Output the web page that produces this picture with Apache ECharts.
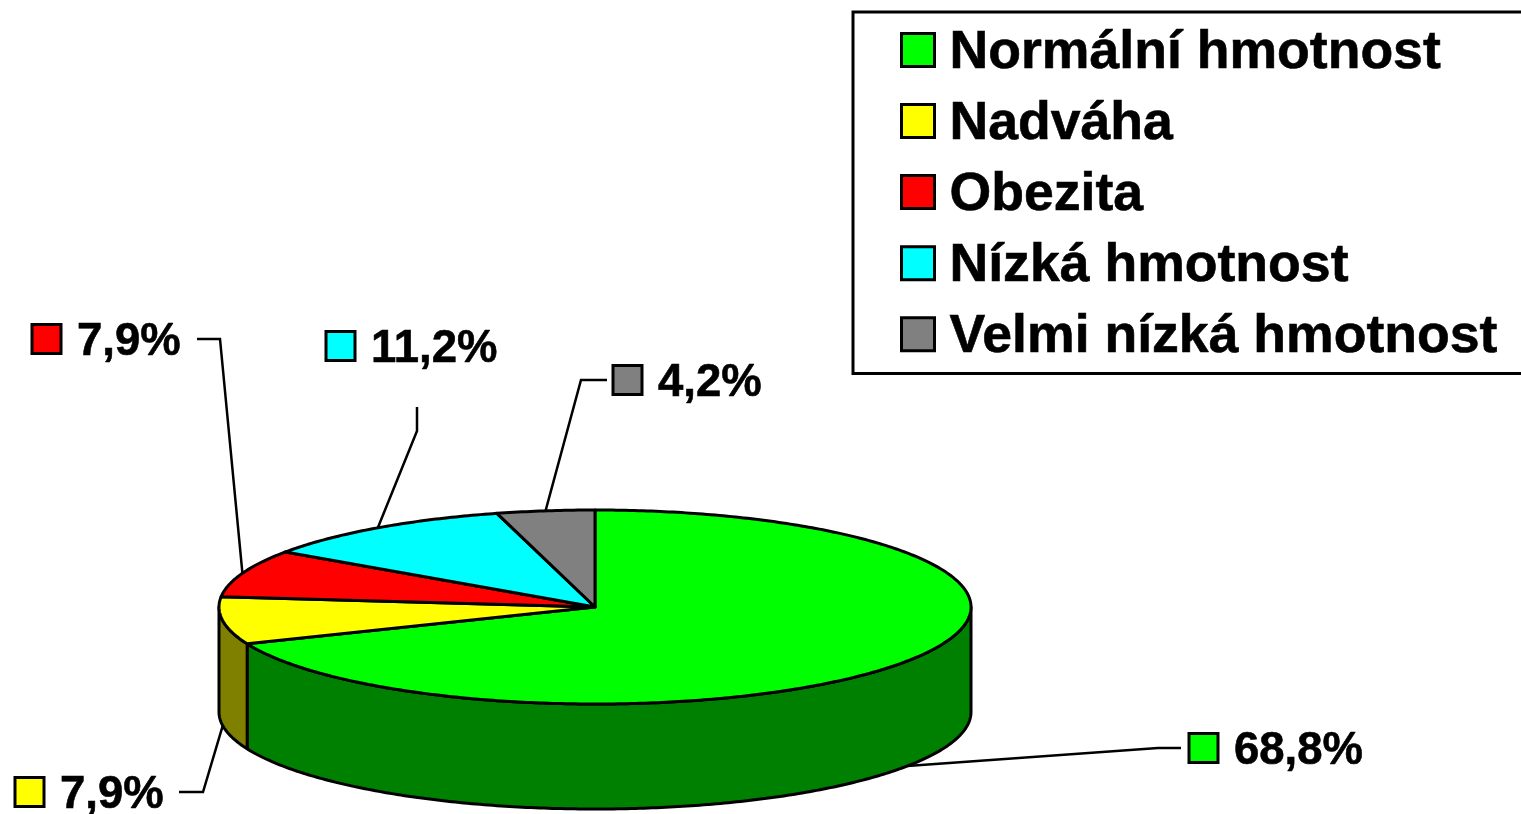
<!DOCTYPE html>
<html lang="cs">
<head>
<meta charset="utf-8">
<title>Hmotnost</title>
<style>
  html, body { margin: 0; padding: 0; background: #fff; overflow: hidden; }
  #chart { width: 1521px; height: 814px; }
</style>
<script src="https://cdn.jsdelivr.net/npm/echarts@6/dist/echarts.min.js"></script>
</head>
<body>
<div id="chart"></div>
<script type="text/javascript">
// data
const categories = ['Normální hmotnost', 'Nadváha', 'Obezita', 'Nízká hmotnost', 'Velmi nízká hmotnost'];
const percentValues = [68.8, 7.9, 7.9, 11.2, 4.2];

// colours of the top faces and the side walls
const topColors = ['#00ff00', '#ffff00', '#ff0000', '#00ffff', '#808080'];
const sideColors = ['#008000', '#808000', '#800000', '#008080', '#404040'];

// where each data label sits: box left, box centre y, leader elbow, leader end
const labelLayout = [
    { boxX: 1189, boxY: 748, elbow: [1158, 748], end: [1181, 748] },
    { boxX: 15, boxY: 792, elbow: [203, 792], end: [179, 792] },
    { boxX: 32, boxY: 339, elbow: [220, 339], end: [197, 339] },
    { boxX: 326, boxY: 346, elbow: [417, 431], end: [417, 407] },
    { boxX: 613, boxY: 380, elbow: [581, 380], end: [607, 380] }
];

// pie geometry
const cx = 595, cy = 607, rx = 376, ry = 97, depth = 105;
const lineW = 3;
const labelFont = 'bold 45.5px "Liberation Sans", Arial, sans-serif';

const total = percentValues.reduce((a, b) => a + b, 0);

function rimPoint(deg, drop) {
    let a = deg * Math.PI / 180;
    return [cx + rx * Math.sin(a), cy - ry * Math.cos(a) + drop];
}

function arcPoints(from, to, drop) {
    let pts = [];
    let steps = Math.max(2, Math.ceil(Math.abs(to - from) * 1.5));
    for (let i = 0; i <= steps; i++) {
        pts.push(rimPoint(from + (to - from) * i / steps, drop));
    }
    return pts;
}

function renderSlice(index, api) {
    let before = percentValues.slice(0, index).reduce((a, b) => a + b, 0);
    let value = api.value(0);
    let start = before / total * 360;
    let end = (before + value) / total * 360;
    let mid = (start + end) / 2;
    let children = [];

    // side wall, only the front half of the rim shows
    let sideFrom = Math.max(start, 90);
    let sideTo = Math.min(end, 270);
    if (sideTo > sideFrom) {
        let wall = arcPoints(sideFrom, sideTo, 0).concat(arcPoints(sideTo, sideFrom, depth));
        children.push({
            type: 'polygon',
            shape: { points: wall },
            style: { fill: sideColors[index], stroke: '#000', lineWidth: lineW, lineJoin: 'round' }
        });
    }

    // top face
    children.push({
        type: 'polygon',
        shape: { points: [[cx, cy]].concat(arcPoints(start, end, 0)) },
        style: { fill: topColors[index], stroke: '#000', lineWidth: lineW, lineJoin: 'round' }
    });

    // leader line from the rim to the label
    let layout = labelLayout[index];
    let front = mid > 90 && mid < 270;
    children.push({
        type: 'polyline',
        shape: { points: [rimPoint(mid, front ? depth : 0), layout.elbow, layout.end] },
        style: { fill: 'none', stroke: '#000', lineWidth: 2.5 }
    });

    // label key and text
    children.push({
        type: 'rect',
        shape: { x: layout.boxX, y: layout.boxY - 14.5, width: 29, height: 29 },
        style: { fill: topColors[index], stroke: '#000', lineWidth: lineW }
    });
    children.push({
        type: 'text',
        style: {
            x: layout.boxX + 45,
            y: layout.boxY + 3,
            text: value.toFixed(1).replace('.', ',') + '%',
            font: labelFont,
            fill: '#000',
            stroke: '#000',
            lineWidth: 0.6,
            verticalAlign: 'middle'
        }
    });

    return { type: 'group', children: children };
}

let chartSeries = [];
categories.forEach((name, i) => {
    chartSeries.push({
        name: name,
        type: 'custom',
        coordinateSystem: 'none',
        silent: true,
        itemStyle: { color: topColors[i] },
        data: [[percentValues[i]]],
        renderItem: (params, api) => renderSlice(i, api)
    });
});

let Chart = echarts.init(document.getElementById('chart'));

let option = {
    animation: false,
    backgroundColor: '#fff',
    legend: {
        data: categories,
        orient: 'vertical',
        left: 853,
        top: 12,
        padding: [8, 70, 9, 47],
        itemGap: 10.75,
        itemWidth: 33,
        itemHeight: 33,
        icon: 'rect',
        selectedMode: false,
        borderColor: '#000',
        borderWidth: lineW,
        itemStyle: { borderColor: '#000', borderWidth: lineW },
        formatter: '{t|{name}}',
        textStyle: {
            color: '#000',
            rich: {
                t: {
                    color: '#000',
                    fontFamily: '"Liberation Sans", Arial, sans-serif',
                    fontWeight: 'bold',
                    fontSize: 53.6,
                    lineHeight: 54,
                    padding: [6, 0, 0, 10],
                    textBorderColor: '#000',
                    textBorderWidth: 0.6
                }
            }
        }
    },
    series: chartSeries
};

Chart.setOption(option);
</script>
</body>
</html>
